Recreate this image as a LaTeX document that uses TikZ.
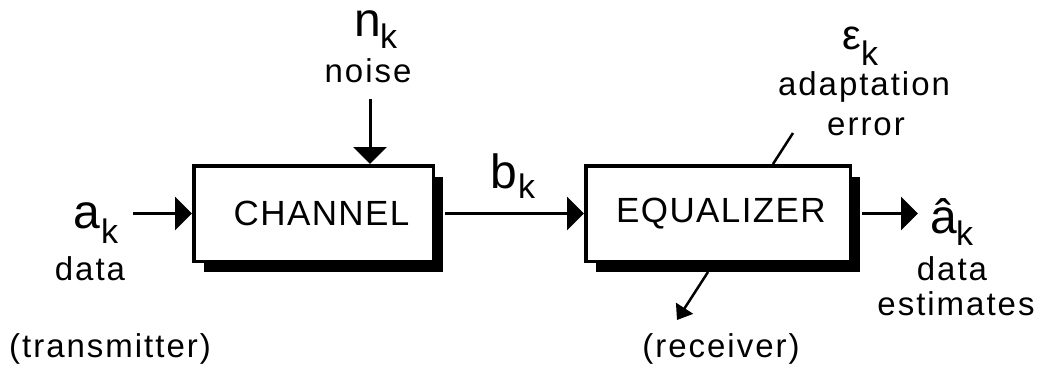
\documentclass[tikz,border=0pt]{standalone}
\usepackage{fontspec}
\setmainfont{Liberation Sans}
\newfontfamily\lblfont[LetterSpace=6]{Liberation Sans}
\newfontfamily\boxfont[LetterSpace=4]{Liberation Sans}
\usetikzlibrary{arrows.meta,shadows}
\begin{document}
\begin{tikzpicture}[x=1pt,y=-1pt,
  lbl/.style={inner sep=0pt, anchor=base, font=\lblfont\fontsize{33}{33}\selectfont},
  sym/.style={inner sep=0pt, anchor=base west, font=\fontsize{48}{48}\selectfont},
  sub/.style={inner sep=0pt, anchor=base west, font=\fontsize{34}{34}\selectfont},
  block/.style={draw=black, line width=3.5pt, fill=white, inner sep=0pt,
    minimum height=95.5pt, font=\boxfont\fontsize{35}{35}\selectfont,
    general shadow={fill=black, shadow xshift=10pt, shadow yshift=-11pt}},
  arr/.style={line width=3pt, -{Triangle[length=17pt,width=33pt]}},
  arrs/.style={line width=2.5pt, -{Triangle[length=14pt,width=20pt]}},
  plain/.style={line width=2.5pt}
]
\useasboundingbox (0,0) rectangle (1050,367);

% blocks
\node[block, minimum width=239.5pt] (ch) at (313.5,213.5) {\hspace*{16pt}CHANNEL};
\node[block, minimum width=264.5pt] (eq) at (718,213.5) {\hspace*{6pt}EQUALIZER};

% free ends
\coordinate (ain) at (133,213.5);
\coordinate (nin) at (370,99);
\coordinate (aout) at (918,213.5);
\coordinate (errtop) at (793,133);
\coordinate (rxs) at (708,272);
\coordinate (rxe) at (677,320);

% connectors
\draw[arr] (ain) -- (ch.west);
\draw[arr] (nin) -- (nin |- ch.north);
\draw[arr] ([xshift=10pt]ch.east) -- (eq.west);
\draw[arr] ([xshift=10pt]eq.east) -- (aout);
\draw[plain] ([xshift=55pt]eq.north) -- (errtop);
\draw[arrs] (rxs) -- (rxe);

% labels
\node[sym] (nsym) at (354,36) {n};
\node[sub] (nsub) at (380,48) {k};
\node[lbl] (noise) at (368,82) {noise};

\node[sym] (asym) at (73,228) {a};
\node[sub] (asub) at (101,243) {k};
\node[lbl] (adata) at (90,280) {data};
\node[lbl] (tx) at (110,357) {(transmitter)};

\node[sym] (bsym) at (490,188) {b};
\node[sub] (bsub) at (518,198) {k};

\node[sym, font=\fontsize{42}{42}\selectfont] (esym) at (842,49) {ε};
\node[sub] (esub) at (861,65) {k};
\node[lbl] (adapt) at (864,95) {adaptation};
\node[lbl] (err) at (866,135) {error};

\node[sym] (ahat) at (930,233) {â};
\node[sub] (ahsub) at (956,245) {k};
\node[lbl] (odata) at (952,280) {data};
\node[lbl] (est) at (956,315) {estimates};
\node[lbl] (rx) at (721,357) {(receiver)};
\end{tikzpicture}
\end{document}
